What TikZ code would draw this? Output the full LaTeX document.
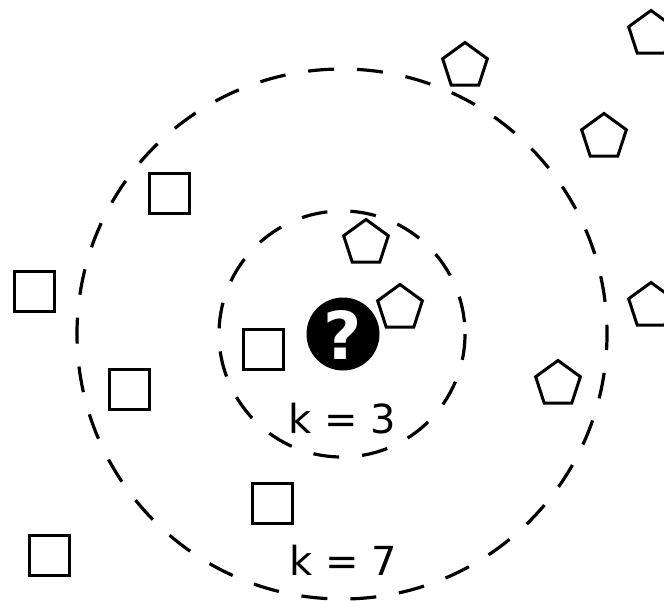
\documentclass[tikz,border=0pt]{standalone}
\usepackage{fontspec}
\setmainfont{DejaVu Sans}
\usetikzlibrary{shapes.geometric}
\tikzset{
  sq/.style={draw, line width=3pt, rectangle, minimum size=40pt, inner sep=0pt},
  pent/.style={draw, line width=3pt, regular polygon, regular polygon sides=5, minimum size=47pt, inner sep=0pt},
  ring/.style={line width=3.2pt, dash pattern=on 26pt off 23pt},
  klabel/.style={font=\fontsize{40}{48}\selectfont, inner sep=0pt, anchor=base},
}
\begin{document}
\begin{tikzpicture}[x=1pt,y=-1pt]
\useasboundingbox (0,0) rectangle (664,600);
% circles
\coordinate (c) at (342,334);
\draw[ring] (c) circle (123);
\draw[ring, dash phase=10pt] (c) circle (265);
% query point
\node[circle, fill=black, minimum size=73pt, inner sep=0pt] (q) at (343,334) {};
\node[text=white, font=\bfseries\fontsize{66}{68}\selectfont, inner sep=0pt] (qm) at (343,335) {?};
% squares
\node[sq] (s1) at (169,193) {};
\node[sq] (s2) at (34,291) {};
\node[sq] (s3) at (129,389) {};
\node[sq] (s4) at (263,349) {};
\node[sq] (s5) at (272,503) {};
\node[sq] (s6) at (49,555) {};
% pentagons
\node[pent] (p1) at (465,66) {};
\node[pent] (p2) at (651,34) {};
\node[pent] (p3) at (604,137) {};
\node[pent] (p4) at (651,306) {};
\node[pent] (p5) at (366,243) {};
\node[pent] (p6) at (400,308) {};
\node[pent] (p7) at (558,384) {};
% labels
\node[klabel] (k3) at (342,433) {k = 3};
\node[klabel] (k7) at (343,575) {k = 7};
\end{tikzpicture}
\end{document}
